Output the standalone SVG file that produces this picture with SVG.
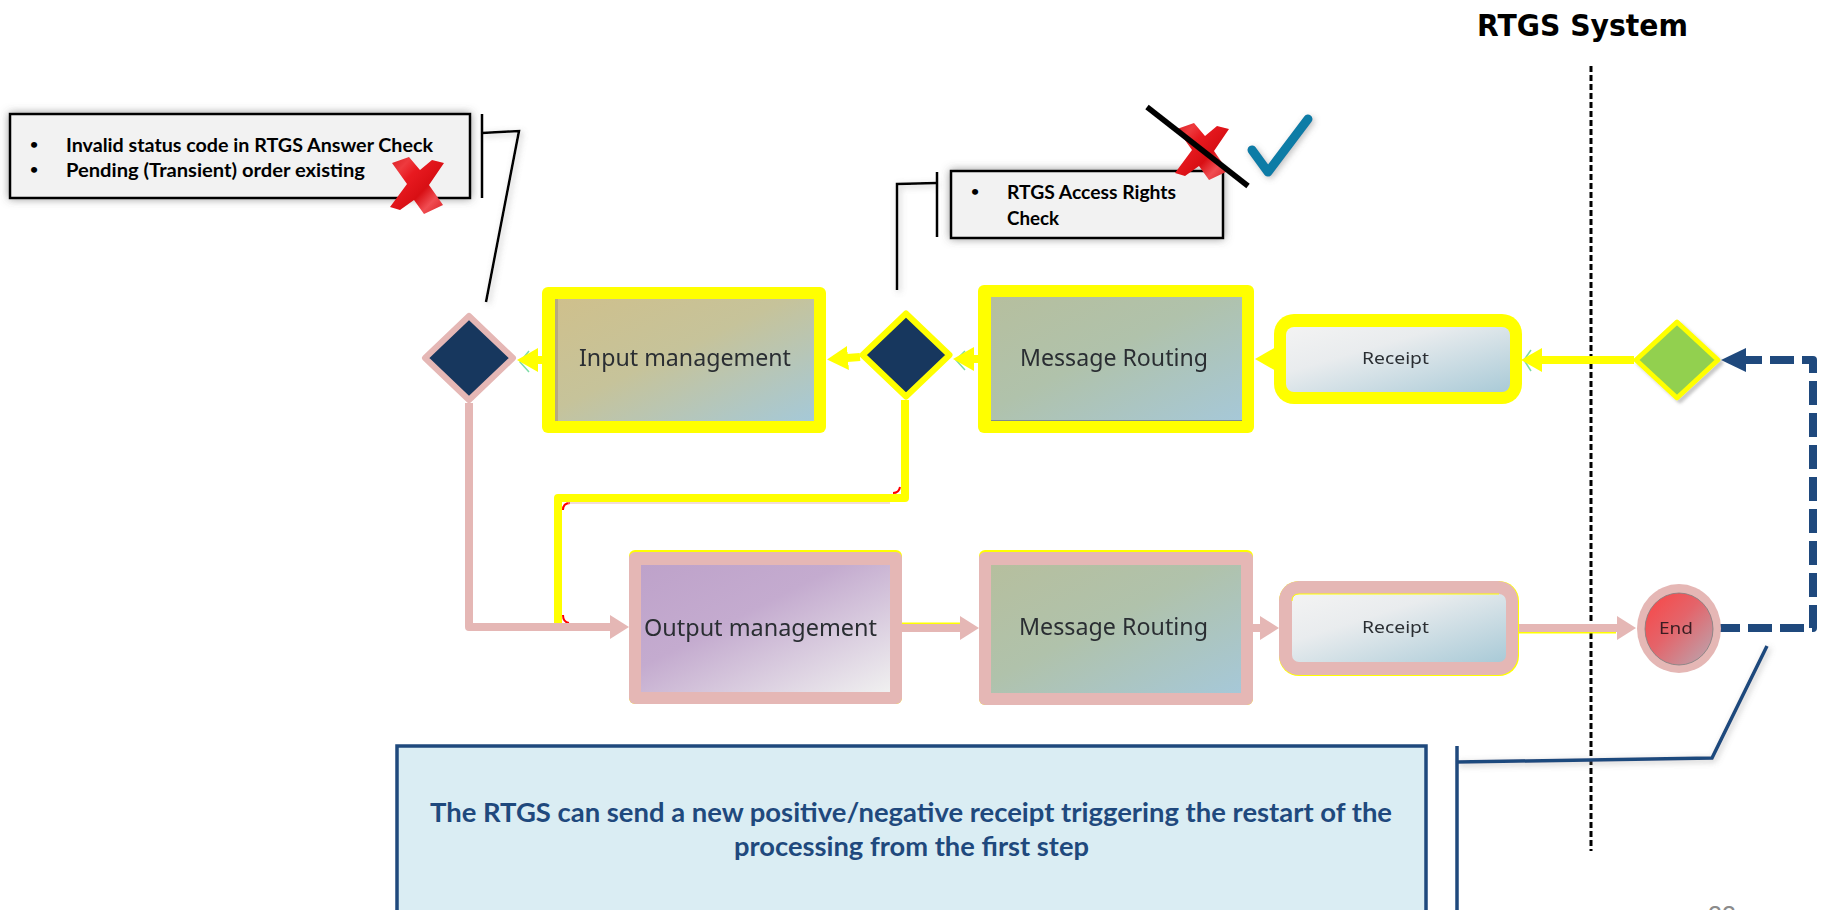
<svg xmlns="http://www.w3.org/2000/svg" xmlns:xlink="http://www.w3.org/1999/xlink" width="1829" height="910" viewBox="0 0 1829 910">
<style>
text{font-family:"Lato","Liberation Sans",sans-serif}
.lbl{font-family:"Noto Sans","Liberation Sans",sans-serif;fill:#2a2e33;filter:url(#soft);text-anchor:start}
.big{font-size:23px}.sm{font-size:17px}
.cal{font-size:19.500px;font-weight:700;fill:#000}
.bul{font-size:14px;font-weight:700;fill:#000}
.callbox{fill:#f2f2f2;stroke:#000;stroke-width:2.5;filter:url(#shadow)}
.lead{fill:none;stroke:#000;stroke-width:2.5;filter:url(#shadow2)}
.navylead{fill:none;stroke:#1f497d;stroke-width:3.5;filter:url(#shadow2)}
.y{fill:#ffff00}.p{fill:#e5b7b5}
.yl{fill:none;stroke:#ffff00;stroke-width:8;stroke-linejoin:round;marker-end:url(#hy)}
.yn{fill:none;stroke:#ffff00;stroke-width:8;stroke-linejoin:round}
.pl{fill:none;stroke:#e5b7b5;stroke-width:8;stroke-linejoin:round;marker-end:url(#hp)}
.dia{fill:#17375e;stroke-width:6;stroke-linejoin:round}
.blue{font-size:26.500px;font-weight:700;fill:#1f497d}
.glint{fill:none;stroke:#22c46a;stroke-width:1.5;opacity:.6;filter:url(#soft)}
.red{fill:none;stroke:#f00;stroke-width:2}
</style>
<defs>
<filter id="soft" x="-10%" y="-30%" width="120%" height="160%"><feGaussianBlur stdDeviation="0.55"/></filter>
<filter id="shadow" x="-5%" y="-25%" width="110%" height="150%"><feDropShadow dx="0" dy="0" stdDeviation="4" flood-color="#555" flood-opacity=".6"/></filter>
<filter id="shadow2" x="-30%" y="-30%" width="160%" height="160%"><feDropShadow dx="2" dy="2" stdDeviation="3" flood-color="#777" flood-opacity=".45"/></filter>
<filter id="shadow3" x="-20%" y="-20%" width="140%" height="140%"><feDropShadow dx="3" dy="3" stdDeviation="1.500" flood-color="#777" flood-opacity=".4"/></filter>
<linearGradient id="gi" x1="0" y1="0" x2="1" y2="1"><stop offset="0" stop-color="#cfc08c"/><stop offset=".45" stop-color="#c6c39a"/><stop offset="1" stop-color="#a5c9d8"/></linearGradient>
<linearGradient id="gm" x1="0" y1="0" x2="1" y2="1"><stop offset="0" stop-color="#b6bf9e"/><stop offset=".45" stop-color="#b0c2ab"/><stop offset="1" stop-color="#a6c8d8"/></linearGradient>
<linearGradient id="go" x1="0" y1="0" x2="1" y2="1"><stop offset="0" stop-color="#bea2ca"/><stop offset=".4" stop-color="#c4abcf"/><stop offset="1" stop-color="#f0f0f0"/></linearGradient>
<linearGradient id="gr" x1="0" y1="0" x2="1" y2="1"><stop offset="0" stop-color="#f3f3f3"/><stop offset=".35" stop-color="#e9ecee"/><stop offset="1" stop-color="#a9cad7"/></linearGradient>
<linearGradient id="ge" x1="0" y1="0" x2="1" y2="1"><stop offset="0" stop-color="#fb4444"/><stop offset=".45" stop-color="#e4646a"/><stop offset="1" stop-color="#b8aab4"/></linearGradient>
<linearGradient id="gx" x1="0" y1="0" x2="1" y2="1"><stop offset="0" stop-color="#d81c20"/><stop offset=".2" stop-color="#ee3a3e"/><stop offset=".35" stop-color="#e81a20"/><stop offset=".6" stop-color="#d80f14"/><stop offset=".78" stop-color="#f04d52"/><stop offset="1" stop-color="#d81c20"/></linearGradient>
<polygon id="xm" fill="url(#gx)" points="0,6 17,0 28,13 40,3 52,6 37,28 51,48 32,57 22,43 8,53 -2,50 15,27"/>
<marker id="hy" markerUnits="userSpaceOnUse" markerWidth="22" markerHeight="24" viewBox="0 0 22 24" refX="1" refY="12" orient="auto"><path d="M0 0L21 12L0 24Z" fill="#ffff00"/></marker>
<marker id="hp" markerUnits="userSpaceOnUse" markerWidth="20" markerHeight="26" viewBox="0 0 20 26" refX="1" refY="13" orient="auto"><path d="M0 1L19 13L0 25Z" fill="#e5b7b5"/></marker>
<marker id="hn" markerUnits="userSpaceOnUse" markerWidth="26" markerHeight="26" viewBox="0 0 26 26" refX="1" refY="13" orient="auto"><path d="M0 1L25 13L0 25Z" fill="#1f497d"/></marker>
</defs>

<rect width="1829" height="910" fill="#fff"/>
<text id="title" x="1477" y="36" font-size="30" font-weight="700" textLength="211" lengthAdjust="spacingAndGlyphs" style="font-family:'DejaVu Sans','Liberation Sans',sans-serif" fill="#000">RTGS System</text>

<g id="connectors">
<line x1="1591" y1="66" x2="1591" y2="851" stroke="#000" stroke-width="3" stroke-dasharray="6 3"/>
<path class="yn" d="M905 400V498H558V627"/>
<path class="red" d="M563 510Q563 503 570 503M563 615Q563 622 569 623M893 493Q899 493 900 487"/>
<path d="M568 503H890" stroke="#e5b7b5" stroke-width="1.2" fill="none"/>
<path class="pl" d="M469 403V627H611"/>
<path d="M902 623.500H961M1518 632.500H1616" stroke="#ffff00" stroke-width="2" fill="none"/>
<path class="pl" d="M902 628H961"/>
<path class="pl" d="M1253 628H1261"/>
<path class="pl" d="M1518 628H1618"/>
<path class="glint" d="M529 351L520 362L529 372M965 351L956 360L965 370M1531 350L1524 360L1531 371"/>
<path class="yl" d="M1634 360H1541"/>
<path class="yl" d="M1276 359H1275"/>
<path class="yl" d="M978 359H973"/>
<path class="yl" d="M860 357L847 358"/>
<path class="yl" d="M542 360H537"/>
<path d="M1716 628H1813V360H1745" fill="none" stroke="#1f497d" stroke-width="8" stroke-dasharray="24 8" stroke-linejoin="round" marker-end="url(#hn)"/>
<path class="lead" d="M482 133L519 131L486 302"/>
<path class="lead" d="M937 183L897 184V290"/>
<path class="navylead" d="M1767 646L1712 758L1457 762"/>
</g>

<g id="callout-invalid">
<rect class="callbox" x="10" y="114" width="460" height="84"/>
<line x1="482" y1="114" x2="482" y2="198" stroke="#000" stroke-width="2.5"/>
<text class="bul" x="30" y="149">•</text>
<text class="bul" x="30" y="174">•</text>
<text class="cal" x="66" y="152" textLength="367" lengthAdjust="spacingAndGlyphs">Invalid status code in RTGS Answer Check</text>
<text class="cal" x="66" y="177" textLength="299" lengthAdjust="spacingAndGlyphs">Pending (Transient) order existing</text>
<use href="#xm" xlink:href="#xm" x="392" y="157"/>
</g>

<g id="callout-access">
<rect class="callbox" x="951" y="171" width="272" height="67"/>
<line x1="937" y1="172" x2="937" y2="237" stroke="#000" stroke-width="2.5"/>
<text class="bul" x="971" y="196">•</text>
<text class="cal" x="1007" y="199" textLength="169" lengthAdjust="spacingAndGlyphs">RTGS Access Rights</text>
<text class="cal" x="1007" y="225" textLength="52" lengthAdjust="spacingAndGlyphs">Check</text>
<use href="#xm" xlink:href="#xm" transform="translate(1177 123)"/>
<line x1="1147" y1="107" x2="1248" y2="186" stroke="#000" stroke-width="5.5"/>
<path d="M1252 150L1268 172L1308 119" fill="none" stroke="#0f7ca6" stroke-width="9" stroke-linecap="round" stroke-linejoin="round" filter="url(#shadow2)"/>
</g>

<g id="node-d1"><polygon class="dia" stroke="#e5b7b5" points="469,316 513,358 469,400 425,358"/></g>
<g id="node-d2"><polygon class="dia" stroke="#ffff00" points="906,313.500 949.500,355 906,396.500 862.500,355"/></g>
<g id="node-start"><polygon points="1677,322 1718,360 1677,398 1636,360" fill="#92d050" stroke="#ffff00" stroke-width="5" stroke-linejoin="round" filter="url(#shadow3)"/></g>

<g id="node-input">
<rect class="y" x="542" y="287" width="284" height="146" rx="6"/>
<rect x="555" y="299" width="259" height="122" fill="url(#gi)"/>
<rect x="555" y="299" width="3" height="122" fill="#b7aa7e"/>
<text class="lbl big" x="579" y="366" textLength="212" lengthAdjust="spacingAndGlyphs">Input management</text>
</g>
<g id="node-route1">
<rect class="y" x="978" y="285" width="276" height="148" rx="6"/>
<rect x="991" y="297" width="251" height="124" fill="url(#gm)"/>
<rect x="991" y="420" width="251" height="1" fill="#7f8b8f"/>
<text class="lbl big" x="1020" y="366" textLength="188" lengthAdjust="spacingAndGlyphs">Message Routing</text>
</g>
<g id="node-receipt1">
<rect class="y" x="1274" y="314" width="248" height="90" rx="20"/>
<rect x="1286" y="327" width="224" height="65" rx="8" fill="url(#gr)"/>
<text class="lbl sm" x="1362" y="364" textLength="67" lengthAdjust="spacingAndGlyphs">Receipt</text>
</g>
<g id="node-output">
<rect class="y" x="629" y="550" width="273" height="154" rx="6"/>
<rect class="p" x="629" y="552" width="273" height="152" rx="6"/>
<rect x="641" y="565" width="249" height="127" fill="url(#go)"/>
<text class="lbl big" x="644" y="636" textLength="233" lengthAdjust="spacingAndGlyphs">Output management</text>
</g>
<g id="node-route2">
<rect class="y" x="979" y="550" width="274" height="155" rx="6"/>
<rect class="p" x="979" y="552" width="274" height="153" rx="6"/>
<rect x="991" y="565" width="250" height="128" fill="url(#gm)"/>
<text class="lbl big" x="1019" y="635" textLength="189" lengthAdjust="spacingAndGlyphs">Message Routing</text>
</g>
<g id="node-receipt2">
<rect class="y" x="1279" y="581" width="240" height="95" rx="20"/>
<rect class="p" x="1279" y="581" width="239" height="94" rx="20"/>
<rect x="1292" y="594" width="214" height="68" rx="7" fill="url(#gr)"/>
<path d="M1292 601Q1292 594 1299 594H1499" fill="none" stroke="#ffff00" stroke-width="1"/>
<text class="lbl sm" x="1362" y="633" textLength="67" lengthAdjust="spacingAndGlyphs">Receipt</text>
</g>
<g id="node-end">
<ellipse cx="1679" cy="628.500" rx="42" ry="44.500" fill="#e5b7b5"/>
<ellipse cx="1679" cy="629" rx="34" ry="36" fill="url(#ge)" stroke="#7f7f7f" stroke-width=".8"/>
<text class="lbl sm" x="1659" y="634" textLength="34" lengthAdjust="spacingAndGlyphs" style="fill:#3a1f22">End</text>
</g>

<g id="note-restart">
<rect x="397" y="746" width="1029" height="200" fill="#daedf3" stroke="#1f497d" stroke-width="3.500"/>
<line x1="1457" y1="746" x2="1457" y2="910" stroke="#1f497d" stroke-width="3.500"/>
<text class="blue" x="430" y="822" textLength="962" lengthAdjust="spacingAndGlyphs">The RTGS can send a new positive/negative receipt triggering the restart of the</text>
<text class="blue" x="734" y="856" textLength="355" lengthAdjust="spacingAndGlyphs">processing from the first step</text>
</g>
<text id="page" x="1708" y="924" font-size="25" fill="#8b8b8b" style="font-family:'Liberation Sans',sans-serif">22</text>
</svg>
